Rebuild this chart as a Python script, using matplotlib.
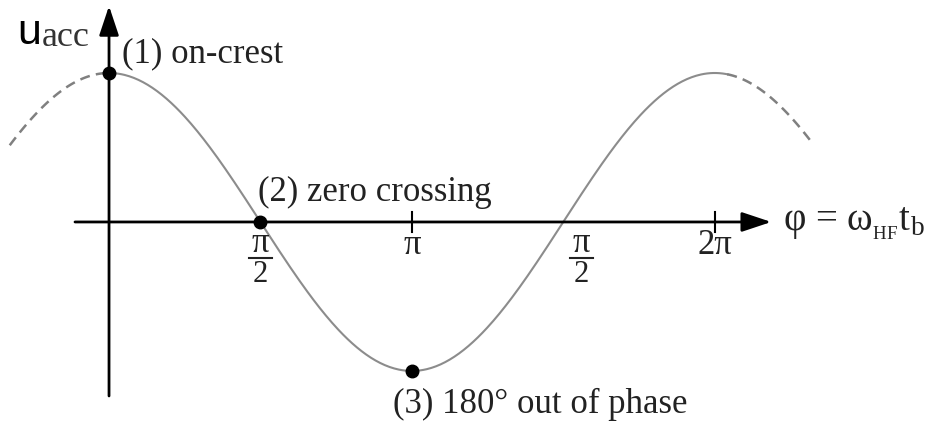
import numpy as np
import matplotlib.pyplot as plt

plt.rcParams['font.family'] = 'Liberation Serif'
plt.rcParams['mathtext.fontset'] = 'custom'
plt.rcParams['mathtext.rm'] = 'Liberation Serif'
plt.rcParams['mathtext.it'] = 'Liberation Serif'

# curve: u_acc = amp * cos(phi)
amp        = 1.0
solid_span = (0.0, 2*np.pi + 0.13)
dash_left  = (-1.03, 0.0)
dash_right = (2*np.pi + 0.13, 7.30)

point_phase = [0.0, np.pi/2, np.pi]
point_label = ['(1) on-crest', '(2) zero crossing', '(3) 180° out of phase']

tick_phase  = [np.pi, 2*np.pi]
tick_label  = ['π', '2π']
frac_phase  = [np.pi/2, 3*np.pi/2]

curve_col = '#8c8c8c'
text_col  = '#222222'
fs = 25

fig = plt.figure(figsize=(9.33, 4.21), dpi=100)
ax = fig.add_axes([0, 0, 1, 1])
ax.set_xlim(-1.131, 8.548)
ax.set_ylim(-1.336, 1.490)
ax.axis('off')

# curve, solid middle + dashed ends
ph = np.linspace(solid_span[0], solid_span[1], 400)
ax.plot(ph, amp*np.cos(ph), color=curve_col, lw=1.5, zorder=2)
for a, b in (dash_left, dash_right):
    ph = np.linspace(a, b, 100)
    ax.plot(ph, amp*np.cos(ph), color='#808080', lw=1.8, ls=(0, (4, 2.5)), zorder=2)

# axes with arrow heads
arr = dict(arrowstyle='-|>,head_length=0.9,head_width=0.3', color='k', lw=2,
           mutation_scale=20, shrinkA=0, shrinkB=0)
ax.annotate('', xy=(0, 1.45), xytext=(0, -1.168), arrowprops=arr, zorder=3)
ax.annotate('', xy=(6.87, 0), xytext=(-0.353, 0), arrowprops=arr, zorder=3)

# tick marks and labels
for p, lab in zip(tick_phase, tick_label):
    ax.plot([p, p], [-0.067, 0.067], color='k', lw=1.5, zorder=3)
    ax.text(p, -0.155, lab, fontsize=fs, color=text_col, ha='center', va='center')

# pi/2 fraction labels (second one sits right of the crossing)
for p, dx in zip(frac_phase, [0.0, 0.19]):
    x = p + dx
    ax.text(x, -0.145, 'π', fontsize=fs, color=text_col, ha='center', va='center')
    ax.plot([x - 0.115, x + 0.115], [-0.245, -0.245], color=text_col, lw=1.5)
    ax.text(x, -0.35, '2', fontsize=22, color=text_col, ha='center', va='center')

# marked points
ax.plot(point_phase, amp*np.cos(point_phase), 'o', color='k', ms=9, zorder=4)
label_pos = [(0.135, 1.13), (1.546, 0.20), (2.946, -1.225)]
for (x, y), lab in zip(label_pos, point_label):
    ax.text(x, y, lab, fontsize=fs, color=text_col, ha='left', va='center')

# axis titles
ax.text(-0.95, 1.27, 'u', fontsize=31, family='Liberation Sans', color='k',
        ha='left', va='center')
ax.text(-0.70, 1.24, 'acc', fontsize=26, color='#333333', ha='left', va='center')
ax.text(6.99, -0.01, r'φ = ω$_{_{\mathrm{HF}}}$t$_{\mathrm{b}}$', fontsize=28,
        color=text_col, ha='left', va='center')

fig.savefig('out.png', dpi=100)
